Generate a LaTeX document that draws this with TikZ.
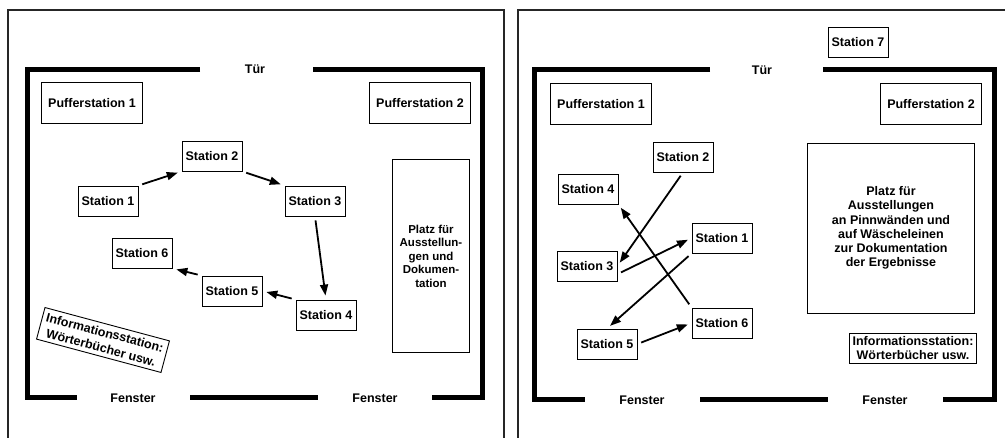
\documentclass[tikz,border=0pt]{standalone}
\usepackage{fontspec}
\setmainfont{Liberation Sans}
\usetikzlibrary{arrows.meta}

\begin{document}
\begin{tikzpicture}[x=1pt,y=-1pt,
    lbl/.style={font=\bfseries\fontsize{12.5}{14.3}\selectfont, inner sep=1pt},
    stn/.style={lbl, draw, line width=0.9pt, minimum width=60, minimum height=30},
    puffer/.style={stn, minimum width=101, minimum height=41},
    wall/.style={line width=5pt},
    frame/.style={line width=1.1pt, black!85},
    arr/.style={line width=1.8pt, -{Triangle[length=11pt,width=8pt]},
                shorten <=4pt, shorten >=4pt}]
       \useasboundingbox (0,0) rectangle (1005,438);
       % left room
       \draw[frame] (8,438) -- (8,10) -- (504,10) -- (504,438);
       \draw[wall] (200,70) -- (27,70) -- (27,398) -- (77,398);
       \draw[wall] (190,398) -- (318,398);
       \draw[wall] (313,70) -- (482,70) -- (482,398) -- (432,398);
       \node[lbl] (ltuer) at (255,69) {Tür};
       \node[lbl] (lfen1) at (133,398) {Fenster};
       \node[lbl] (lfen2) at (375,398) {Fenster};
       \node[puffer] (lp1) at (92,103) {Pufferstation 1};
       \node[puffer] (lp2) at (420,103) {Pufferstation 2};
       \node[stn] (l1) at (108,201) {Station 1};
       \node[stn] (l2) at (212,156) {Station 2};
       \node[stn] (l3) at (315,201) {Station 3};
       \node[stn] (l4) at (326,315) {Station 4};
       \node[stn] (l5) at (232,291) {Station 5};
       \node[stn] (l6) at (142,253) {Station 6};
       \node[stn, minimum width=77, minimum height=193, align=center,
             font=\bfseries\fontsize{11.5}{13.5}\selectfont] (lplatz) at (431,256)
             {Platz für\\Ausstellun-\\gen und\\Dokumen-\\tation};
       \node[stn, rotate=-15, align=center, inner sep=4pt,
             font=\bfseries\fontsize{12.5}{15.5}\selectfont] (linfo) at (103,340)
             {Informationsstation:\\Wörterbücher usw.};
       \draw[arr] (l1.north east) -- (l2.south west);
       \draw[arr] (l2.south east) -- (l3.north west);
       \draw[arr] (l3.south) -- (l4.north);
       \draw[arr] (l4.north west) -- (l5.east);
       \draw[arr] (l5.north west) -- (l6.south east);
       % right room
       \draw[frame] (518,438) -- (518,10) -- (1005,10);
       \draw[wall] (710,70) -- (534,70) -- (534,400) -- (585,400);
       \draw[wall] (700,400) -- (828,400);
       \draw[wall] (823,70) -- (994,70) -- (994,400) -- (943,400);
       \node[lbl] (rtuer) at (762,70) {Tür};
       \node[lbl] (rfen1) at (642,400) {Fenster};
       \node[lbl] (rfen2) at (885,400) {Fenster};
       \node[stn] (r7) at (858,42) {Station 7};
       \node[puffer] (rp1) at (601,104) {Pufferstation 1};
       \node[puffer] (rp2) at (931,104) {Pufferstation 2};
       \node[stn] (r1) at (722,238) {Station 1};
       \node[stn] (r2) at (683,157) {Station 2};
       \node[stn] (r3) at (587,266) {Station 3};
       \node[stn] (r4) at (588,189) {Station 4};
       \node[stn] (r5) at (607,344) {Station 5};
       \node[stn] (r6) at (722,323) {Station 6};
       \node[stn, minimum width=167, minimum height=170, align=center] (rplatz) at (891,228)
             {Platz für\\Ausstellungen\\an Pinnwänden und\\auf Wäscheleinen\\zur Dokumentation\\der Ergebnisse};
       \node[stn, align=center, inner sep=3pt] (rinfo) at (913,348)
             {Informationsstation:\\Wörterbücher usw.};
       \draw[arr] (r2.south) -- (r3.east);
       \draw[arr] (r3.-15) -- (r1.west);
       \draw[arr] (r1.south west) -- (r5.north);
       \draw[arr] (r5.east) -- (r6.west);
       \draw[arr] (r6.north west) -- (r4.south east);
\end{tikzpicture}
\end{document}
